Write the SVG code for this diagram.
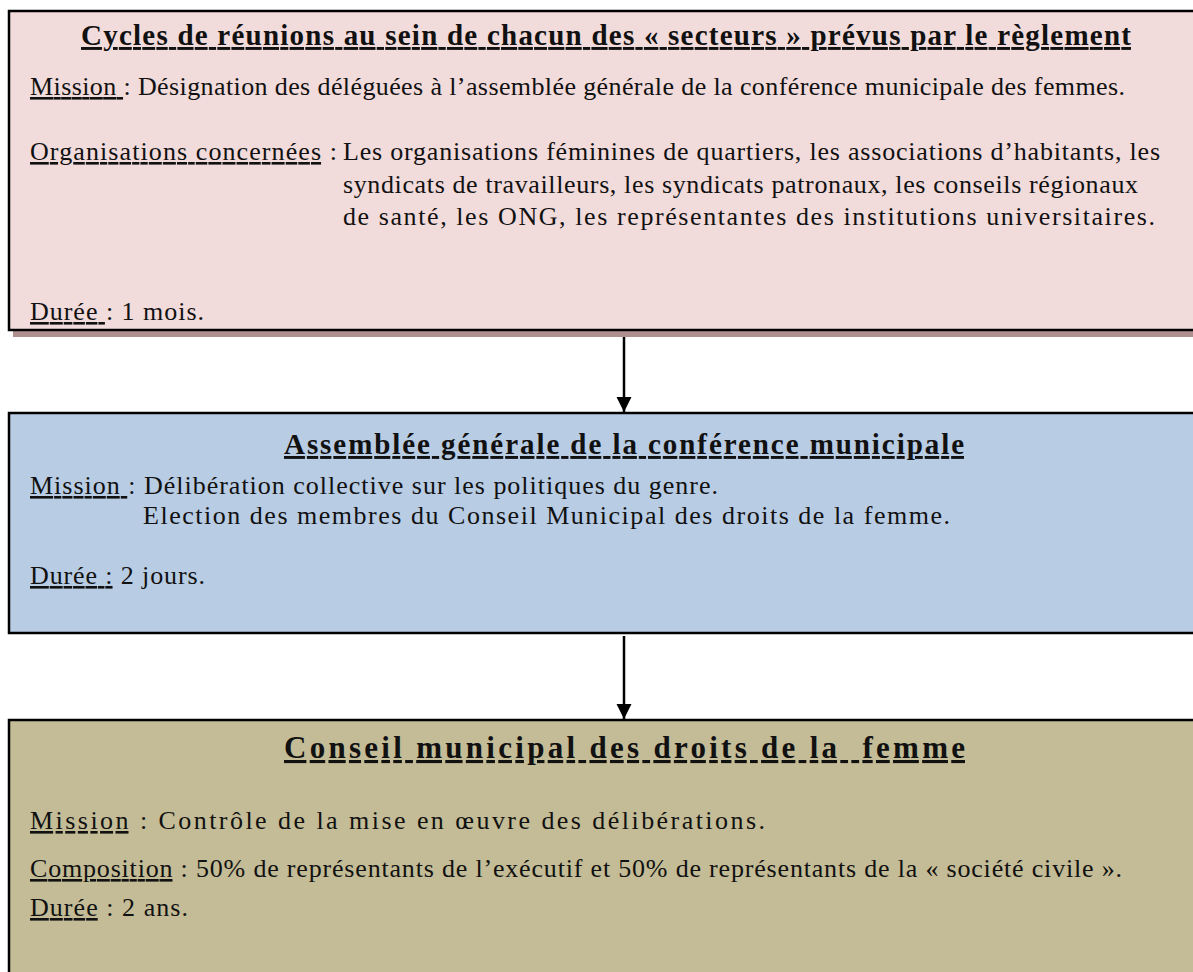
<svg xmlns="http://www.w3.org/2000/svg" width="1193" height="972" viewBox="0 0 1193 972">
<style>
text{font-family:"Liberation Serif","Times New Roman",serif;font-size:26px;fill:#111}
.t{font-weight:bold;font-size:29px;text-decoration:underline}
.t3{font-size:31px}
.u{text-decoration:underline}
.box{stroke:#000;stroke-width:2.5}
.conn{stroke:#000;stroke-width:2.5;fill:none}
</style>
<defs>
<marker id="ah" markerUnits="userSpaceOnUse" markerWidth="16" markerHeight="16" refX="15" refY="7.5" orient="auto">
<path d="M0,0 L15,7.5 L0,15 z" fill="#000"/>
</marker>
</defs>

<g id="node-secteurs">
<rect x="13" y="16" width="1200" height="321" fill="#B08F8F"/>
<rect class="box" x="9" y="11" width="1200" height="319" fill="#F2DBDB"/>
<text class="t" x="81" y="45" textLength="1050">Cycles de réunions au sein de chacun des « secteurs » prévus par le règlement</text>
<text x="30" y="95" textLength="1095"><tspan class="u">Mission </tspan>: Désignation des déléguées à l’assemblée générale de la conférence municipale des femmes.</text>
<text x="30" y="160" textLength="307"><tspan class="u">Organisations concernées</tspan> :</text>
<text x="343" y="160" textLength="817">Les organisations féminines de quartiers, les associations d’habitants, les</text>
<text x="343" y="193" textLength="795">syndicats de travailleurs, les syndicats patronaux, les conseils régionaux</text>
<text x="343" y="225" textLength="812">de santé, les ONG, les représentantes des institutions universitaires.</text>
<text x="30" y="320" textLength="174"><tspan class="u">Durée </tspan>: 1 mois.</text>
</g>

<g id="node-assemblee">
<rect class="box" x="9" y="413" width="1200" height="220" fill="#B8CCE4"/>
<text class="t" x="284" y="454" textLength="680">Assemblée générale de la conférence municipale</text>
<text x="30" y="494" textLength="688"><tspan class="u">Mission </tspan>: Délibération collective sur les politiques du genre.</text>
<text x="143" y="524" textLength="807">Election des membres du Conseil Municipal des droits de la femme.</text>
<text x="30" y="584" textLength="175"><tspan class="u">Durée :</tspan> 2 jours.</text>
</g>

<g id="node-conseil">
<rect class="box" x="9" y="720" width="1200" height="270" fill="#C4BC96"/>
<text class="t t3" x="284" y="758" textLength="681" xml:space="preserve">Conseil municipal des droits de la  femme</text>
<text x="30" y="829" textLength="735"><tspan class="u">Mission</tspan> : Contrôle de la mise en œuvre des délibérations.</text>
<text x="30" y="877" textLength="1092"><tspan class="u">Composition</tspan> : 50% de représentants de l’exécutif et 50% de représentants de la « société civile ».</text>
<text x="30" y="916" textLength="158"><tspan class="u">Durée</tspan> : 2 ans.</text>
</g>

<g id="connectors">
<line class="conn" x1="624" y1="337" x2="624" y2="412" marker-end="url(#ah)"/>
<line class="conn" x1="624" y1="636" x2="624" y2="719" marker-end="url(#ah)"/>
</g>
</svg>
